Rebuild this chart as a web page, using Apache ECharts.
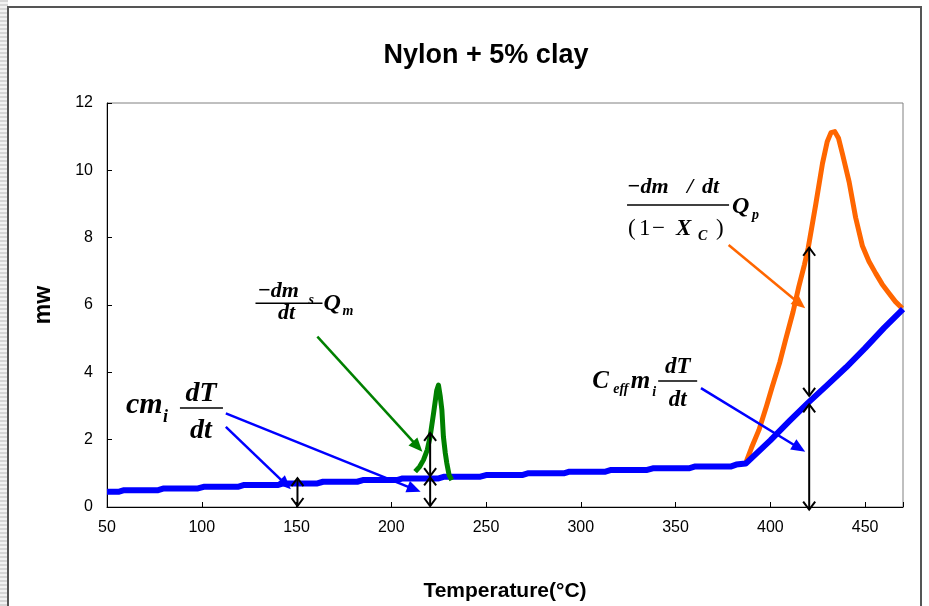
<!DOCTYPE html>
<html>
<head>
<meta charset="utf-8">
<script src="https://cdn.jsdelivr.net/npm/echarts@6/dist/echarts.min.js"></script>
<style>
  html, body { margin: 0; padding: 0; background: #ffffff; }
  #chart { width: 929px; height: 606px; }
</style>
</head>
<body>
<div id="chart"></div>
<script>
// ---- axis ticks ----
const tempTicks = [50, 100, 150, 200, 250, 300, 350, 400, 450];
const mwTicks = [0, 2, 4, 6, 8, 10, 12];

// ---- sensible heat baseline (stepped recorder trace, then ramp) ----
const baseTemp = [50, 56, 59, 77, 80, 98, 101, 119, 122, 140, 143, 161, 164, 182, 185, 203, 206,
  225, 228, 247, 250, 269, 272, 291, 294, 313, 316, 335, 338, 357, 360, 379, 382, 387,
  400, 410, 420, 430, 440, 450, 460, 470];
const baseMw = [0.45, 0.45, 0.50, 0.50, 0.55, 0.55, 0.60, 0.60, 0.65, 0.65, 0.70, 0.70, 0.75, 0.75, 0.80, 0.80, 0.85,
  0.85, 0.90, 0.90, 0.95, 0.95, 1.00, 1.00, 1.05, 1.05, 1.10, 1.10, 1.15, 1.15, 1.20, 1.20, 1.26, 1.29,
  1.98, 2.55, 3.10, 3.62, 4.15, 4.72, 5.32, 5.88];

// ---- melting peak ----
const meltTemp = [212.6, 215, 217, 219, 220.5, 222.3, 224, 224.9, 225.8, 226.7, 227.5, 228.5, 229.3, 230.5, 231.9];
const meltMw = [1.05, 1.20, 1.40, 1.70, 2.09, 2.78, 3.47, 3.62, 3.30, 2.88, 2.09, 1.60, 1.30, 0.95, 0.80];

// ---- decomposition peak ----
const decoTemp = [387, 390, 394, 398, 401, 405, 408, 412, 415, 418, 420, 424, 427.5, 430, 432, 434, 436, 438,
  441.6, 445, 448.6, 452, 455.6, 459, 462.6, 466, 469.6];
const decoMw = [1.30, 1.75, 2.29, 3.00, 3.57, 4.30, 4.96, 5.80, 6.54, 7.20, 7.70, 9.00, 10.20, 10.85, 11.12, 11.15, 10.95, 10.50,
  9.65, 8.60, 7.75, 7.30, 6.94, 6.62, 6.35, 6.10, 5.90];

const toPairs = (xs, ys) => xs.map((x, i) => [x, ys[i]]);

const chart = echarts.init(document.getElementById('chart'), null, { renderer: 'canvas' });

chart.setOption({
  animation: false,
  backgroundColor: '#ffffff',
  title: {
    text: 'Nylon + 5% clay',
    left: 481,
    top: 37,
    textAlign: 'center',
    textStyle: { fontFamily: 'Liberation Sans', fontWeight: 'bold', fontSize: 27, color: '#000' }
  },
  grid: {
    left: 107, right: 26, top: 103, bottom: 99,
    outerBoundsMode: 'none', containLabel: false,
    show: true, borderColor: '#808080', borderWidth: 1, backgroundColor: 'transparent'
  },
  xAxis: {
    type: 'value', min: 50, max: 470, interval: 50,
    name: 'Temperature(°C)', nameLocation: 'middle', nameGap: 74,
    nameTextStyle: { fontFamily: 'Liberation Sans', fontWeight: 'bold', fontSize: 21, color: '#000' },
    axisLine: { show: true, onZero: false, lineStyle: { color: '#000', width: 1 } },
    axisTick: { show: true, inside: true, length: 5, lineStyle: { color: '#000' } },
    axisLabel: {
      margin: 13, fontFamily: 'Liberation Sans', fontSize: 16, color: '#000',
      formatter: v => (tempTicks.includes(v) ? String(v) : '')
    },
    splitLine: { show: false }
  },
  yAxis: {
    type: 'value', min: 0, max: 12, interval: 2,
    name: 'mw', nameLocation: 'middle', nameGap: 52, nameRotate: 90,
    nameTextStyle: { fontFamily: 'Liberation Sans', fontWeight: 'bold', fontSize: 23, color: '#000' },
    axisLine: { show: true, onZero: false, lineStyle: { color: '#000', width: 1 } },
    axisTick: { show: true, inside: true, length: 5, lineStyle: { color: '#000' } },
    axisLabel: {
      margin: 14, fontFamily: 'Liberation Sans', fontSize: 16, color: '#000',
      formatter: v => (mwTicks.includes(v) ? String(v) : '')
    },
    splitLine: { show: false }
  },
  series: [
    {
      name: 'decomposition', type: 'line', data: toPairs(decoTemp, decoMw),
      showSymbol: false, smooth: false, silent: true, z: 2,
      lineStyle: { color: '#ff6600', width: 5, join: 'round' }
    },
    {
      name: 'baseline', type: 'line', data: toPairs(baseTemp, baseMw),
      showSymbol: false, silent: true, z: 3,
      lineStyle: { color: '#0000ff', width: 6, join: 'round' }
    },
    {
      name: 'melting', type: 'line', data: toPairs(meltTemp, meltMw),
      showSymbol: false, smooth: false, silent: true, z: 4,
      lineStyle: { color: '#008000', width: 5, join: 'round' }
    }
  ]
});

// ---- annotations, anchored in data coordinates ----
const px = p => chart.convertToPixel({ xAxisIndex: 0, yAxisIndex: 0 }, p);

// pointer arrows: [tail, tip, colour]
const pointers = [
  [[112.7, 2.38], [147.0, 0.53], '#0000ff'],
  [[112.7, 2.78], [215.5, 0.45], '#0000ff'],
  [[161.0, 5.06], [216.4, 1.64], '#008000'],
  [[378.0, 7.78], [418.4, 5.90], '#ff6600'],
  [[363.4, 3.53], [418.4, 1.64], '#0000ff']
];
// two-headed measuring arrows: [temperature, from, to]
const spans = [
  [150.5, 0.03, 0.86],
  [220.5, 0.03, 0.88],
  [220.5, 0.92, 2.20],
  [420.5, -0.08, 3.05],
  [420.5, 3.30, 7.70]
];

const els = [];
const SERIF = '"Liberation Serif", "Times New Roman", serif';

function text(x, base, str, size, weight, italic, align) {
  els.push({
    type: 'text', silent: true, z: 20,
    x: x, y: base - 0.34 * size,
    style: {
      text: str, fill: '#000',
      font: (italic ? 'italic ' : '') + (weight || 'bold') + ' ' + size + 'px ' + SERIF,
      align: align || 'left', verticalAlign: 'middle'
    }
  });
}
function bar(x1, x2, y) {
  els.push({ type: 'line', silent: true, z: 20, shape: { x1: x1, y1: y, x2: x2, y2: y },
    style: { stroke: '#000', lineWidth: 1.5 } });
}

function pointer(tail, tip, color) {
  const a = px(tail), b = px(tip);
  const dx = b[0] - a[0], dy = b[1] - a[1], L = Math.hypot(dx, dy);
  const ux = dx / L, uy = dy / L, hl = 14, hw = 6;
  const bx = b[0] - ux * hl, by = b[1] - uy * hl;
  els.push({ type: 'line', silent: true, z: 15, shape: { x1: a[0], y1: a[1], x2: bx + ux * 2, y2: by + uy * 2 },
    style: { stroke: color, lineWidth: 2.5 } });
  els.push({ type: 'polygon', silent: true, z: 15,
    shape: { points: [[b[0], b[1]], [bx - uy * hw, by + ux * hw], [bx + uy * hw, by - ux * hw]] },
    style: { fill: color } });
}

function span(t, v1, v2) {
  const a = px([t, v1]), b = px([t, v2]);
  const x = a[0], arm = 8, spread = 6;
  els.push({ type: 'line', silent: true, z: 16, shape: { x1: x, y1: a[1], x2: x, y2: b[1] },
    style: { stroke: '#000', lineWidth: 2 } });
  els.push({ type: 'polyline', silent: true, z: 16,
    shape: { points: [[x - spread, a[1] - arm], [x, a[1]], [x + spread, a[1] - arm]] },
    style: { stroke: '#000', lineWidth: 2, fill: null } });
  els.push({ type: 'polyline', silent: true, z: 16,
    shape: { points: [[x - spread, b[1] + arm], [x, b[1]], [x + spread, b[1] + arm]] },
    style: { stroke: '#000', lineWidth: 2, fill: null } });
}

pointers.forEach(p => pointer(p[0], p[1], p[2]));
spans.forEach(s => span(s[0], s[1], s[2]));

// c m_i dT/dt
(function () {
  const [x, y] = px([60.0, 2.73]);
  text(x, y, 'cm', 30, 'bold', true);
  text(x + 37, y + 8, 'i', 18, 'bold', true);
  bar(x + 54, x + 97, y - 7);
  text(x + 75, y - 12, 'dT', 28, 'bold', true, 'center');
  text(x + 75, y + 25, 'dt', 28, 'bold', true, 'center');
})();

// -dm_s/dt Q_m
(function () {
  const [x, y] = px([129.4, 6.17]);
  text(x, y, '\u2212dm', 22, 'bold', true);
  text(x + 51, y + 6, 's', 14, 'bold', true);
  bar(x - 2, x + 65, y + 4);
  text(x + 29, y + 22, 'dt', 22, 'bold', true, 'center');
  text(x + 66, y + 13, 'Q', 24, 'bold', true);
  text(x + 85, y + 17, 'm', 14, 'bold', true);
})();

// (-dm/dt)/(1-X_C) Q_p
(function () {
  const [x, y] = px([324.4, 9.27]);
  text(x, y, '\u2212dm', 22, 'bold', true);
  text(x + 60, y, '/', 22, 'bold', true);
  text(x + 75, y, 'dt', 22, 'bold', true);
  bar(x, x + 102, y + 10);
  text(x + 1, y + 42, '(', 23, 'normal', false);
  text(x + 12, y + 42, '1', 23, 'normal', false);
  text(x + 25, y + 42, '\u2212', 23, 'normal', false);
  text(x + 49, y + 42, 'X', 23, 'bold', true);
  text(x + 71, y + 46, 'C', 14, 'bold', true);
  text(x + 89, y + 42, ')', 23, 'normal', false);
  text(x + 105, y + 20, 'Q', 24, 'bold', true);
  text(x + 125, y + 25, 'p', 14, 'bold', true);
})();

// C_eff m_i dT/dt
(function () {
  const [x, y] = px([306.0, 3.47]);
  text(x, y, 'C', 25, 'bold', true);
  text(x + 21, y + 4, 'eff', 14, 'bold', true);
  text(x + 38.5, y, 'm', 25, 'bold', true);
  text(x + 60, y + 7, 'i', 14, 'bold', true);
  bar(x + 66, x + 105, y - 9.3);
  text(x + 85.5, y - 15, 'dT', 23, 'bold', true, 'center');
  text(x + 85.5, y + 18, 'dt', 23, 'bold', true, 'center');
})();

// page edge: striped margin and outer frame
const stripe = document.createElement('canvas');
stripe.width = 4; stripe.height = 4;
const sctx = stripe.getContext('2d');
sctx.fillStyle = '#f2f2f2'; sctx.fillRect(0, 0, 4, 4);
sctx.fillStyle = '#d6d6d6'; sctx.fillRect(0, 0, 4, 2);
els.push({ type: 'rect', silent: true, z: 30, shape: { x: 0, y: 0, width: 8, height: 606 },
  style: { fill: { image: stripe, repeat: 'repeat' } } });
els.push({ type: 'polyline', silent: true, z: 31,
  shape: { points: [[8, 606], [8, 7], [921, 7], [921, 606]] },
  style: { stroke: '#555555', lineWidth: 2, fill: null } });

chart.setOption({ graphic: { elements: els } });
</script>
</body>
</html>
